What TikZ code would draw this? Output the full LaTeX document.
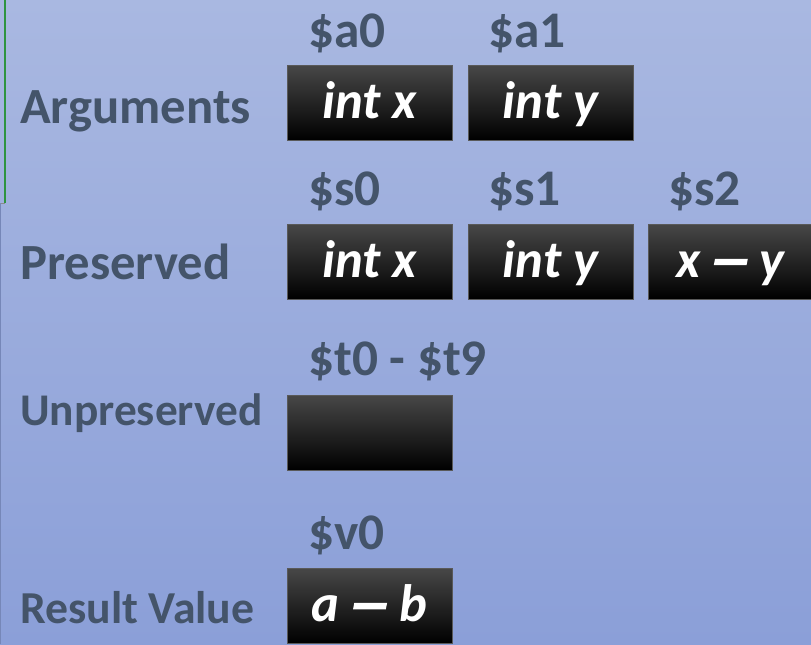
\documentclass[tikz,border=0pt]{standalone}
\usepackage{fontspec}
\setmainfont{Carlito}
\newfontface\dashfont[FakeBold=3.5]{Carlito Bold Italic}
\definecolor{bgtop}{HTML}{A9B8E1}
\definecolor{bgbot}{HTML}{8B9FD8}
\definecolor{lbl}{HTML}{44546A}
\definecolor{edgegreen}{HTML}{2F9440}
\newcommand{\ldash}{\,{\dashfont\scalebox{1.6}[1]{–}}\,}
\tikzset{
  regbox/.style={rectangle, draw=black!65, line width=0.75pt,
    top color=black!72, middle color=black, bottom color=black,
    minimum width=123.75pt, inner sep=0pt,
    text height=39.75pt, text depth=16.5pt, align=center,
    text=white, font=\fontsize{39.5}{42}\selectfont\bfseries\itshape},
  reglabel/.style={anchor=base west, inner sep=0pt, text=lbl,
    font=\fontsize{38.5}{42}\selectfont\bfseries},
  rowlabel/.style={anchor=base west, inner sep=0pt, text=lbl,
    font=\fontsize{#1}{42}\selectfont\bfseries}
}
\begin{document}
\begin{tikzpicture}[x=0.75pt,y=-0.75pt]
\useasboundingbox (0,0) rectangle (811,644);
\clip (0,0) rectangle (811,644);
\shade[top color=bgtop, bottom color=bgbot] (0,0) rectangle (811,644);
% partial frame at left
\draw[edgegreen, line width=1.5pt] (5,0) -- (5,203);
\draw[black!45, line width=0.75pt] (0,203) -- (5,203);
\draw[bgbot!85!black, line width=0.75pt] (0.4,203) -- (0.4,644);
% row labels
\node[rowlabel=38] (largs) at (20,123) {Arguments};
\node[rowlabel=38] (lpres) at (20,279) {Preserved};
\node[rowlabel=34] (lunp) at (20,425) {Unpreserved};
\node[rowlabel=34.3] (lres) at (20,623) {Result Value};
% register names
\node[reglabel] (ra0) at (308,47) {\$a0};
\node[reglabel] (ra1) at (488,47) {\$a1};
\node[reglabel] (rs0) at (308,205) {\$s0};
\node[reglabel] (rs1) at (488,205) {\$s1};
\node[reglabel] (rs2) at (668,205) {\$s2};
\node[reglabel] (rt) at (308,375) {\$t0 - \$t9};
\node[reglabel] (rv0) at (308,549) {\$v0};
% boxes
\node[regbox] (ba0) at (369.5,102.5) {int x};
\node[regbox] (ba1) at (550.5,102.5) {int y};
\node[regbox] (bs0) at (369.5,261.5) {int x};
\node[regbox] (bs1) at (550.5,261.5) {int y};
\node[regbox] (bs2) at (730.5,261.5) {x\ldash{}y};
\node[regbox] (bt) at (369.5,432.5) {};
\node[regbox] (bv0) at (369.5,605.5) {a\ldash{}b};
\end{tikzpicture}
\end{document}
